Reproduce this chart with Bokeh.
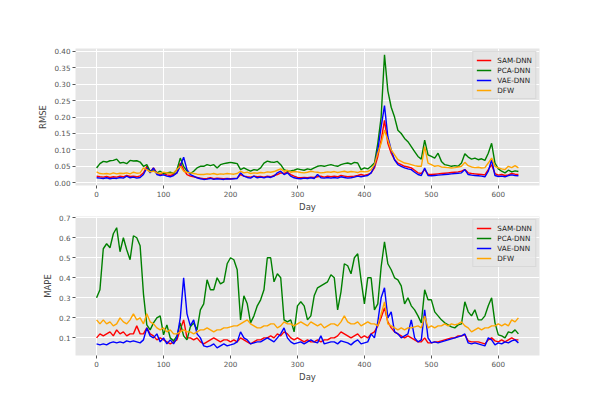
from bokeh.plotting import figure
from bokeh.layouts import column
from bokeh.models import Range1d, Legend, LegendItem, FixedTicker, NumeralTickFormatter
from bokeh.embed import file_html
from bokeh.resources import INLINE

days = list(range(0, 631, 5))
series_names = ["SAM-DNN", "PCA-DNN", "VAE-DNN", "DFW"]
series_colors = ["red", "green", "blue", "orange"]
x_ticks = [0, 100, 200, 300, 400, 500, 600]
rmse_ticks = [0.00, 0.05, 0.10, 0.15, 0.20, 0.25, 0.30, 0.35, 0.40]
mape_ticks = [0.1, 0.2, 0.3, 0.4, 0.5, 0.6, 0.7]

sam_rmse = [
    0.020, 0.018, 0.017, 0.019, 0.016, 0.018, 0.017, 0.020, 0.018, 0.022,
    0.019, 0.020, 0.018, 0.021, 0.030, 0.050, 0.033, 0.045, 0.030, 0.025,
    0.028, 0.024, 0.022, 0.025, 0.030, 0.060, 0.040, 0.025, 0.020, 0.018,
    0.016, 0.014, 0.012, 0.013, 0.015, 0.012, 0.014, 0.013, 0.012, 0.013,
    0.012, 0.013, 0.014, 0.025, 0.020, 0.018, 0.017, 0.020, 0.018, 0.019,
    0.017, 0.020, 0.018, 0.022, 0.025, 0.030, 0.028, 0.032, 0.025, 0.020,
    0.016, 0.015, 0.016, 0.015, 0.017, 0.016, 0.018, 0.020, 0.017, 0.020,
    0.018, 0.020, 0.018, 0.022, 0.020, 0.018, 0.019, 0.020, 0.022, 0.025,
    0.022, 0.025, 0.030, 0.045, 0.080, 0.130, 0.190, 0.120, 0.090, 0.070,
    0.060, 0.055, 0.050, 0.048, 0.045, 0.038, 0.030, 0.028, 0.040, 0.026,
    0.025, 0.026, 0.027, 0.028, 0.029, 0.030, 0.031, 0.032, 0.033, 0.035,
    0.040, 0.030, 0.028, 0.027, 0.026, 0.025, 0.024, 0.040, 0.055, 0.028,
    0.023, 0.025, 0.022, 0.024, 0.028, 0.026, 0.025,
]
pca_rmse = [
    0.045, 0.058, 0.065, 0.063, 0.067, 0.068, 0.072, 0.060, 0.062, 0.058,
    0.068, 0.066, 0.067, 0.063, 0.050, 0.055, 0.035, 0.038, 0.030, 0.035,
    0.028, 0.030, 0.032, 0.028, 0.040, 0.075, 0.050, 0.035, 0.028, 0.035,
    0.045, 0.050, 0.050, 0.055, 0.052, 0.055, 0.045, 0.055, 0.058, 0.060,
    0.062, 0.060, 0.058, 0.040, 0.045, 0.040, 0.035, 0.040, 0.038, 0.045,
    0.060, 0.066, 0.063, 0.062, 0.065, 0.055, 0.040, 0.035, 0.036, 0.038,
    0.042, 0.040, 0.038, 0.042, 0.040, 0.045, 0.050, 0.052, 0.050, 0.053,
    0.055, 0.052, 0.050, 0.055, 0.058, 0.060, 0.057, 0.062, 0.060, 0.040,
    0.045, 0.042, 0.050, 0.060, 0.120, 0.200, 0.390, 0.280, 0.230, 0.200,
    0.160, 0.150, 0.135, 0.125, 0.110, 0.095, 0.080, 0.072, 0.130, 0.085,
    0.080, 0.075, 0.090, 0.065, 0.055, 0.053, 0.050, 0.052, 0.050, 0.060,
    0.088, 0.078, 0.072, 0.075, 0.070, 0.073, 0.068, 0.090, 0.120, 0.060,
    0.042, 0.035, 0.030, 0.038, 0.033, 0.036, 0.034,
]
vae_rmse = [
    0.015, 0.014, 0.013, 0.015, 0.012, 0.014, 0.013, 0.016, 0.014, 0.020,
    0.015, 0.017, 0.014, 0.016, 0.025, 0.045, 0.030, 0.045, 0.025, 0.022,
    0.024, 0.020, 0.018, 0.022, 0.030, 0.050, 0.078, 0.040, 0.025, 0.020,
    0.015, 0.012, 0.010, 0.011, 0.013, 0.010, 0.012, 0.011, 0.010, 0.012,
    0.011, 0.012, 0.013, 0.030, 0.020, 0.016, 0.014, 0.020, 0.015, 0.017,
    0.015, 0.018, 0.016, 0.020, 0.030, 0.035, 0.025, 0.030, 0.020, 0.015,
    0.013, 0.012, 0.014, 0.013, 0.015, 0.013, 0.025, 0.015, 0.014, 0.016,
    0.014, 0.016, 0.014, 0.018, 0.016, 0.014, 0.015, 0.017, 0.020, 0.018,
    0.020, 0.022, 0.030, 0.050, 0.100, 0.170, 0.235, 0.140, 0.100, 0.070,
    0.055, 0.050, 0.045, 0.042, 0.040, 0.032, 0.025, 0.022, 0.045, 0.022,
    0.021, 0.022, 0.023, 0.024, 0.025, 0.026, 0.027, 0.028, 0.029, 0.030,
    0.040, 0.025, 0.023, 0.022, 0.021, 0.020, 0.018, 0.035, 0.070, 0.022,
    0.019, 0.020, 0.018, 0.022, 0.024, 0.022, 0.021,
]
dfw_rmse = [
    0.033, 0.028, 0.027, 0.028, 0.026, 0.030, 0.027, 0.029, 0.028, 0.030,
    0.027, 0.032, 0.029, 0.030, 0.045, 0.040, 0.033, 0.035, 0.030, 0.028,
    0.032, 0.030, 0.028, 0.030, 0.040, 0.050, 0.035, 0.032, 0.030, 0.028,
    0.026, 0.025, 0.025, 0.027, 0.026, 0.028, 0.025, 0.027, 0.026, 0.028,
    0.027, 0.026, 0.028, 0.035, 0.030, 0.032, 0.028, 0.030, 0.029, 0.031,
    0.030, 0.033, 0.032, 0.034, 0.038, 0.042, 0.035, 0.038, 0.032, 0.034,
    0.033, 0.031, 0.030, 0.032, 0.035, 0.033, 0.032, 0.030, 0.031, 0.033,
    0.032, 0.034, 0.031, 0.033, 0.035, 0.032, 0.034, 0.033, 0.031, 0.035,
    0.033, 0.034, 0.040, 0.055, 0.090, 0.120, 0.160, 0.130, 0.100, 0.085,
    0.070, 0.065, 0.060, 0.058, 0.055, 0.052, 0.050, 0.050, 0.110, 0.060,
    0.055, 0.050, 0.052, 0.048, 0.047, 0.046, 0.045, 0.046, 0.048, 0.050,
    0.062, 0.052, 0.048, 0.046, 0.047, 0.045, 0.046, 0.060, 0.075, 0.050,
    0.045, 0.042, 0.040, 0.050, 0.046, 0.052, 0.045,
]

sam_mape = [
    0.10, 0.12, 0.11, 0.12, 0.13, 0.11, 0.14, 0.12, 0.13, 0.11,
    0.12, 0.12, 0.16, 0.12, 0.12, 0.15, 0.12, 0.11, 0.09, 0.10,
    0.09, 0.08, 0.07, 0.08, 0.09, 0.14, 0.19, 0.10, 0.10, 0.09,
    0.10, 0.08, 0.07, 0.08, 0.09, 0.10, 0.09, 0.08, 0.09, 0.09,
    0.08, 0.09, 0.08, 0.10, 0.09, 0.08, 0.07, 0.08, 0.09, 0.09,
    0.10, 0.10, 0.11, 0.10, 0.12, 0.11, 0.13, 0.12, 0.10, 0.09,
    0.10, 0.09, 0.08, 0.09, 0.08, 0.08, 0.09, 0.08, 0.09, 0.09,
    0.10, 0.10, 0.11, 0.13, 0.12, 0.11, 0.10, 0.11, 0.12, 0.10,
    0.11, 0.10, 0.12, 0.13, 0.16, 0.20, 0.25, 0.18, 0.15, 0.13,
    0.12, 0.11, 0.10, 0.11, 0.10, 0.09, 0.08, 0.08, 0.10, 0.075,
    0.075, 0.08, 0.08, 0.085, 0.09, 0.095, 0.10, 0.10, 0.11, 0.11,
    0.115, 0.085, 0.08, 0.08, 0.08, 0.075, 0.07, 0.09, 0.10, 0.085,
    0.08, 0.09, 0.08, 0.09, 0.10, 0.09, 0.09,
]
pca_mape = [
    0.30, 0.34, 0.545, 0.57, 0.55, 0.62, 0.65, 0.53, 0.60, 0.54,
    0.49, 0.61, 0.60, 0.56, 0.32, 0.165, 0.14, 0.175, 0.20, 0.21,
    0.115, 0.165, 0.10, 0.085, 0.11, 0.175, 0.11, 0.09, 0.155, 0.175,
    0.14, 0.24, 0.27, 0.39, 0.34, 0.34, 0.40, 0.37, 0.38, 0.47,
    0.50, 0.49, 0.44, 0.19, 0.31, 0.27, 0.175, 0.21, 0.26, 0.29,
    0.34, 0.50, 0.50, 0.38, 0.42, 0.40, 0.19, 0.18, 0.19, 0.13,
    0.26, 0.28, 0.26, 0.19, 0.21, 0.31, 0.35, 0.36, 0.37, 0.38,
    0.415, 0.40, 0.24, 0.33, 0.47, 0.46, 0.42, 0.50, 0.52, 0.39,
    0.27, 0.40, 0.40, 0.24, 0.27, 0.455, 0.58, 0.47, 0.44, 0.40,
    0.39, 0.36, 0.27, 0.30, 0.26, 0.24, 0.21, 0.175, 0.34, 0.29,
    0.29, 0.23, 0.21, 0.19, 0.175, 0.165, 0.155, 0.15, 0.165, 0.17,
    0.28, 0.23, 0.21, 0.24, 0.19, 0.19, 0.21, 0.26, 0.30, 0.175,
    0.115, 0.11, 0.10, 0.13, 0.125, 0.14, 0.12,
]
vae_mape = [
    0.07, 0.065, 0.07, 0.065, 0.075, 0.08, 0.075, 0.08, 0.075, 0.085,
    0.08, 0.085, 0.08, 0.075, 0.09, 0.15, 0.11, 0.10, 0.12, 0.08,
    0.10, 0.07, 0.09, 0.07, 0.10, 0.20, 0.40, 0.22, 0.16, 0.19,
    0.12, 0.10, 0.06, 0.055, 0.06, 0.07, 0.05, 0.06, 0.07, 0.06,
    0.065, 0.07, 0.08, 0.13, 0.10, 0.09, 0.07, 0.075, 0.08, 0.08,
    0.09, 0.10, 0.09, 0.08, 0.10, 0.12, 0.15, 0.10, 0.08, 0.07,
    0.075, 0.08, 0.07, 0.08, 0.09, 0.08, 0.075, 0.11, 0.07, 0.075,
    0.08, 0.08, 0.07, 0.085, 0.08, 0.075, 0.065, 0.08, 0.09, 0.07,
    0.075, 0.08, 0.12, 0.10, 0.18, 0.30, 0.35, 0.20, 0.23, 0.13,
    0.12, 0.10, 0.11, 0.12, 0.19, 0.10, 0.08, 0.09, 0.24, 0.10,
    0.075, 0.08, 0.075, 0.08, 0.085, 0.09, 0.095, 0.10, 0.105, 0.11,
    0.12, 0.075, 0.07, 0.075, 0.07, 0.065, 0.06, 0.10, 0.09, 0.065,
    0.075, 0.07, 0.08, 0.075, 0.085, 0.09, 0.075,
]
dfw_mape = [
    0.19, 0.17, 0.19, 0.17, 0.18, 0.16, 0.17, 0.20, 0.18, 0.17,
    0.19, 0.22, 0.19, 0.20, 0.17, 0.22, 0.18, 0.17, 0.15, 0.14,
    0.15, 0.13, 0.14, 0.12, 0.12, 0.13, 0.14, 0.13, 0.13, 0.12,
    0.13, 0.14, 0.14, 0.15, 0.14, 0.13, 0.14, 0.14, 0.15, 0.15,
    0.155, 0.16, 0.16, 0.17, 0.18, 0.19, 0.17, 0.16, 0.15, 0.15,
    0.16, 0.16, 0.17, 0.17, 0.15, 0.16, 0.18, 0.17, 0.17, 0.16,
    0.17, 0.18, 0.17, 0.16, 0.18, 0.17, 0.16, 0.17, 0.15, 0.16,
    0.17, 0.17, 0.16, 0.18, 0.21, 0.18, 0.17, 0.17, 0.18, 0.16,
    0.17, 0.18, 0.17, 0.17, 0.16, 0.22, 0.28, 0.17, 0.16, 0.15,
    0.14, 0.15, 0.14, 0.15, 0.15, 0.155, 0.16, 0.15, 0.21, 0.15,
    0.16, 0.15, 0.16, 0.16, 0.17, 0.16, 0.17, 0.165, 0.17, 0.18,
    0.16, 0.15, 0.13, 0.14, 0.15, 0.14, 0.15, 0.15, 0.16, 0.16,
    0.17, 0.16, 0.17, 0.16, 0.19, 0.18, 0.20,
]

FONT = "DejaVu Sans"


def make_fig(height, top, bottom, y_range, yticks, fmt, ylabel, series):
    p = figure(width=584, height=height, output_backend="svg", toolbar_location=None,
               x_range=Range1d(-31.5, 661.5), y_range=y_range,
               min_border_left=75, min_border_right=45,
               min_border_top=top, min_border_bottom=bottom)
    p.background_fill_color = "#E5E5E5"
    p.border_fill_color = "white"
    p.outline_line_color = None
    p.grid.grid_line_color = "white"
    p.grid.grid_line_width = 1
    p.xaxis.ticker = FixedTicker(ticks=x_ticks)
    p.yaxis.ticker = FixedTicker(ticks=yticks)
    p.yaxis.formatter = NumeralTickFormatter(format=fmt)
    for ax in p.axis:
        ax.axis_line_color = None
        ax.major_tick_line_color = "#555555"
        ax.major_tick_out = 3
        ax.major_tick_in = 0
        ax.minor_tick_line_color = None
        ax.major_label_text_font = FONT
        ax.major_label_text_font_size = "7.2px"
        ax.major_label_text_color = "#555555"
        ax.major_label_standoff = 2
        ax.axis_label_text_font = FONT
        ax.axis_label_text_font_size = "8.5px"
        ax.axis_label_text_font_style = "normal"
        ax.axis_label_text_color = "#444444"
    p.xaxis.axis_label = "Day"
    p.xaxis.axis_label_standoff = 2
    p.yaxis.axis_label = ylabel
    p.yaxis.axis_label_standoff = 3
    items = []
    for name, color, vals in zip(series_names, series_colors, series):
        r = p.line(days, vals, line_color=color, line_width=1.4)
        items.append(LegendItem(label=name, renderers=[r]))
    legend = Legend(items=items, location="top_right")
    legend.label_text_font = FONT
    legend.label_text_font_size = "7.2px"
    legend.label_text_color = "#222222"
    legend.glyph_width = 15
    legend.glyph_height = 10
    legend.label_height = 10
    legend.label_standoff = 6
    legend.spacing = 0
    legend.padding = 3
    legend.margin = 3
    legend.background_fill_color = "#E5E5E5"
    legend.background_fill_alpha = 0.8
    legend.border_line_color = "#CCCCCC"
    legend.border_line_width = 1
    p.add_layout(legend)
    return p


p1 = make_fig(214, 48, 27, Range1d(-0.0085, 0.409), rmse_ticks, "0.00", "RMSE",
              [sam_rmse, pca_rmse, vae_rmse, dfw_rmse])
p2 = make_fig(170, 2, 28, Range1d(0.012, 0.706), mape_ticks, "0.0", "MAPE",
              [sam_mape, pca_mape, vae_mape, dfw_mape])

layout = column(p1, p2, spacing=0)
open("out.html", "w").write(file_html(layout, INLINE))
